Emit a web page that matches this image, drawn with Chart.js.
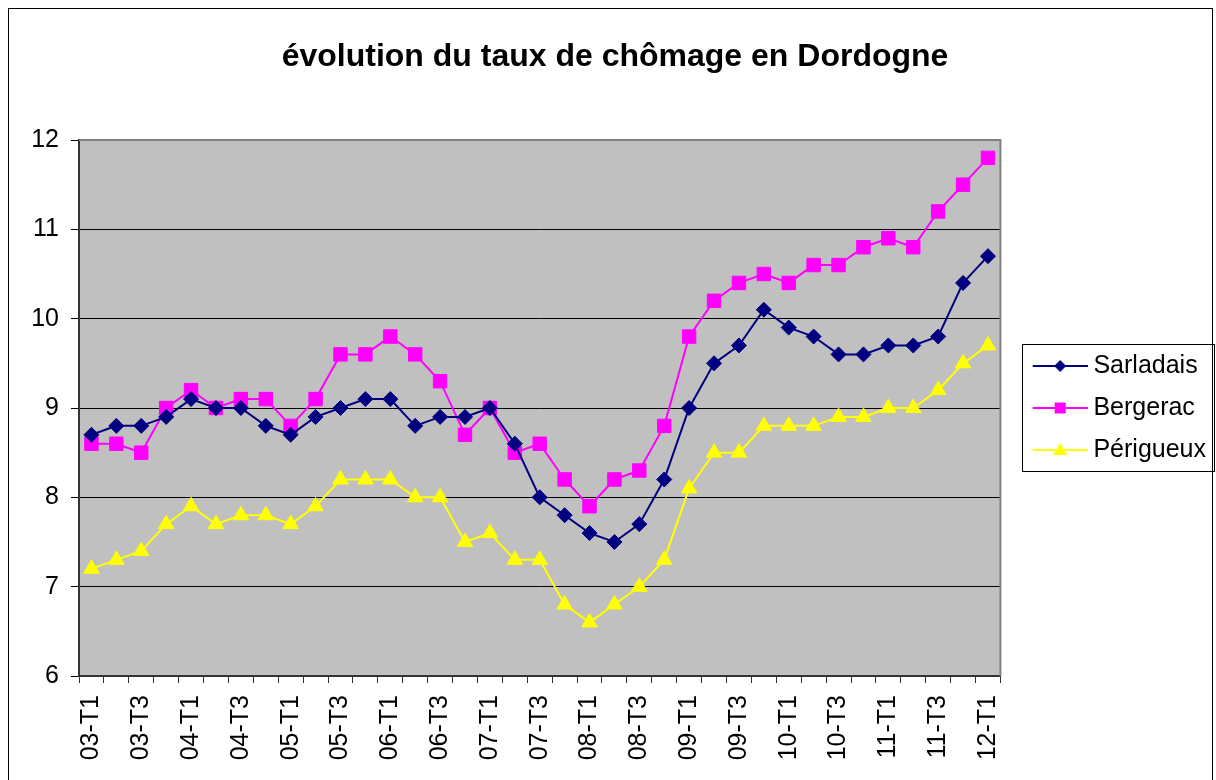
<!DOCTYPE html>
<html lang="fr">
<head>
<meta charset="utf-8">
<title>évolution du taux de chômage en Dordogne</title>
<script src="https://cdn.jsdelivr.net/npm/chart.js@4/dist/chart.umd.min.js"></script>
<style>
    html, body { margin: 0; padding: 0; background: #fff; }
    #chart { display: block; }
</style>
</head>
<body>
<canvas id="chart" width="1216" height="780"></canvas>
<script>
// Quarterly unemployment rate (%) for the three Dordogne areas
const categories = [
    '03-T1', '03-T2', '03-T3', '03-T4', '04-T1', '04-T2', '04-T3', '04-T4',
    '05-T1', '05-T2', '05-T3', '05-T4', '06-T1', '06-T2', '06-T3', '06-T4',
    '07-T1', '07-T2', '07-T3', '07-T4', '08-T1', '08-T2', '08-T3', '08-T4',
    '09-T1', '09-T2', '09-T3', '09-T4', '10-T1', '10-T2', '10-T3', '10-T4',
    '11-T1', '11-T2', '11-T3', '11-T4', '12-T1'
];
const sarladais = [
    8.7, 8.8, 8.8, 8.9, 9.1, 9.0, 9.0, 8.8, 8.7, 8.9, 9.0, 9.1, 9.1, 8.8, 8.9, 8.9,
    9.0, 8.6, 8.0, 7.8, 7.6, 7.5, 7.7, 8.2, 9.0, 9.5, 9.7, 10.1, 9.9, 9.8, 9.6, 9.6,
    9.7, 9.7, 9.8, 10.4, 10.7
];
const bergerac = [
    8.6, 8.6, 8.5, 9.0, 9.2, 9.0, 9.1, 9.1, 8.8, 9.1, 9.6, 9.6, 9.8, 9.6, 9.3, 8.7,
    9.0, 8.5, 8.6, 8.2, 7.9, 8.2, 8.3, 8.8, 9.8, 10.2, 10.4, 10.5, 10.4, 10.6, 10.6, 10.8,
    10.9, 10.8, 11.2, 11.5, 11.8
];
const perigueux = [
    7.2, 7.3, 7.4, 7.7, 7.9, 7.7, 7.8, 7.8, 7.7, 7.9, 8.2, 8.2, 8.2, 8.0, 8.0, 7.5,
    7.6, 7.3, 7.3, 6.8, 6.6, 6.8, 7.0, 7.3, 8.1, 8.5, 8.5, 8.8, 8.8, 8.8, 8.9, 8.9,
    9.0, 9.0, 9.2, 9.5, 9.7
];
const seriesNames = ['Sarladais', 'Bergerac', 'Périgueux'];
const yTicks = [6, 7, 8, 9, 10, 11, 12];

const FONT = "'Liberation Sans', Arial, sans-serif";
const NAVY = '#000080';
const MAGENTA = '#FF00FF';
const YELLOW = '#FFFF00';

// small "line + marker" swatch used as legend point style
function makeLegendIcon(color, shape) {
    const c = document.createElement('canvas');
    c.width = 77;
    c.height = 20;
    const g = c.getContext('2d');
    g.strokeStyle = color;
    g.fillStyle = color;
    g.lineWidth = 2;
    g.beginPath();
    g.moveTo(22, 10);
    g.lineTo(77, 10);
    g.stroke();
    const cx = 49.5, cy = 10;
    g.beginPath();
    if (shape === 'diamond') {
        g.moveTo(cx, cy - 6); g.lineTo(cx + 6, cy); g.lineTo(cx, cy + 6); g.lineTo(cx - 6, cy);
    } else if (shape === 'square') {
        g.rect(cx - 5.5, cy - 5.5, 11, 11);
    } else {
        g.moveTo(cx, cy - 7); g.lineTo(cx + 7, cy + 5); g.lineTo(cx - 7, cy + 5);
    }
    g.closePath();
    g.fill();
    return c;
}

const legendIcons = [
    makeLegendIcon(NAVY, 'diamond'),
    makeLegendIcon(MAGENTA, 'square'),
    makeLegendIcon(YELLOW, 'triangle')
];

const chartDecor = {
    id: 'chartDecor',
    beforeDraw(chart) {
        const ctx = chart.ctx;
        const a = chart.chartArea;
        ctx.save();
        ctx.fillStyle = '#fff';
        ctx.fillRect(0, 0, chart.width, chart.height);
        ctx.strokeStyle = '#000';
        ctx.lineWidth = 1;
        ctx.strokeRect(8.5, 8.5, 1204, 800);
        ctx.fillStyle = '#C0C0C0';
        ctx.fillRect(a.left, a.top, a.right - a.left, a.bottom - a.top);
        ctx.restore();
    },
    afterDatasetsDraw(chart) {
        const ctx = chart.ctx;
        const a = chart.chartArea;
        ctx.save();
        ctx.strokeStyle = '#808080';
        ctx.lineWidth = 2;
        ctx.beginPath();
        ctx.moveTo(a.left, a.top);
        ctx.lineTo(a.right, a.top);
        ctx.lineTo(a.right, a.bottom);
        ctx.stroke();
        ctx.restore();
    },
    afterDraw(chart) {
        const lg = chart.legend;
        const hb = lg.legendHitBoxes;
        if (!hb || !hb.length) return;
        const last = hb[hb.length - 1];
        const ctx = chart.ctx;
        const x0 = hb[0].left + 5;
        const y0 = hb[0].top - 10;
        const y1 = last.top + last.height + 8;
        ctx.save();
        ctx.strokeStyle = '#000';
        ctx.lineWidth = 1;
        ctx.strokeRect(Math.round(x0) + 0.5, Math.round(y0) + 0.5, 192, Math.round(y1 - y0));
        ctx.restore();
    }
};

new Chart(document.getElementById('chart'), {
    type: 'line',
    data: {
        labels: categories,
        datasets: [{
            label: seriesNames[0],
            data: sarladais,
            borderColor: NAVY,
            backgroundColor: NAVY,
            pointStyle: 'rectRot',
            pointRadius: 7.5,
            pointBorderWidth: 1
        }, {
            label: seriesNames[1],
            data: bergerac,
            borderColor: MAGENTA,
            backgroundColor: MAGENTA,
            pointStyle: 'rect',
            pointRadius: 9.5,
            pointBorderWidth: 1
        }, {
            label: seriesNames[2],
            data: perigueux,
            borderColor: YELLOW,
            backgroundColor: YELLOW,
            pointStyle: 'triangle',
            pointRadius: 9,
            pointBorderWidth: 1
        }]
    },
    options: {
        responsive: false,
        animation: false,
        devicePixelRatio: 1,
        layout: { padding: { top: 0, left: 14, right: 0, bottom: 0 } },
        elements: {
            line: { borderWidth: 2, tension: 0 }
        },
        plugins: {
            title: {
                display: true,
                text: 'évolution du taux de chômage en Dordogne',
                color: '#000',
                font: { family: FONT, size: 32, weight: 'bold' },
                padding: { top: 38, bottom: 63.6 }
            },
            legend: {
                position: 'right',
                fullSize: false,
                labels: {
                    usePointStyle: true,
                    pointStyleWidth: 63.5,
                    padding: 17,
                    color: '#000',
                    font: { family: FONT, size: 25 },
                    generateLabels(chart) {
                        return chart.data.datasets.map((ds, i) => ({
                            text: ds.label,
                            pointStyle: legendIcons[i],
                            fillStyle: ds.backgroundColor,
                            strokeStyle: ds.borderColor,
                            lineWidth: 0,
                            hidden: false,
                            datasetIndex: i
                        }));
                    }
                }
            },
            tooltip: { enabled: false }
        },
        scales: {
            x: {
                offset: true,
                grid: {
                    offset: true,
                    drawOnChartArea: false,
                    drawTicks: true,
                    tickLength: 7,
                    color: '#333'
                },
                border: { color: '#333', width: 2 },
                ticks: {
                    autoSkip: false,
                    minRotation: 90,
                    maxRotation: 90,
                    padding: 12,
                    color: '#000',
                    font: { family: FONT, size: 25 },
                    callback: (v, i) => (i % 2 === 0 ? categories[i] : '')
                },
                afterFit(scale) { scale.height = 104; }
            },
            y: {
                min: yTicks[0],
                max: yTicks[yTicks.length - 1],
                grid: {
                    color: ctx => (ctx.tick && ctx.tick.value === 12 ? '#808080' : '#000'),
                    lineWidth: 1,
                    tickLength: 8,
                    tickColor: '#000'
                },
                border: { color: '#333', width: 2 },
                afterBuildTicks(scale) {
                    scale.ticks = yTicks.map(v => ({ value: v }));
                },
                ticks: {
                    padding: 12,
                    color: '#000',
                    font: { family: FONT, size: 25 }
                },
                afterFit(scale) { scale.width = 65; }
            }
        }
    },
    plugins: [chartDecor]
});
</script>
</body>
</html>
